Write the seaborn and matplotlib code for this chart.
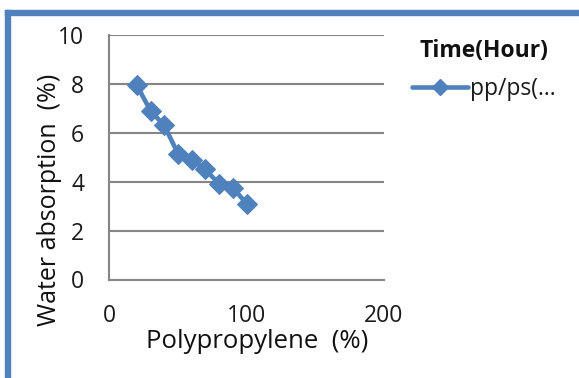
import matplotlib
matplotlib.use("Agg")
import matplotlib.pyplot as plt
import matplotlib.patches as mpatches
from matplotlib.lines import Line2D
import seaborn as sns
import pandas as pd

polypropylene = [20, 30, 40, 50, 60, 70, 80, 90, 100]
water_absorption = [7.95, 6.9, 6.3, 5.15, 4.9, 4.5, 3.9, 3.75, 3.1]
series_name = "pp/ps(..."
legend_title = "Time(Hour)"
x_ticks = [0, 100, 200]
y_ticks = [0, 2, 4, 6, 8, 10]

df = pd.DataFrame({"x": polypropylene, "y": water_absorption, "s": series_name})

sns.set_theme(style="white")
plt.rcParams["font.family"] = ["Open Sans", "DejaVu Sans"]

W, H = 579, 378
fig = plt.figure(figsize=(W / 100, H / 100), dpi=100)
ax = fig.add_axes([109.3 / W, 1 - 279.5 / H, (384 - 109.3) / W, (279.5 - 35) / H])

blue = "#4F81BD"
grid = "#868686"

sns.lineplot(data=df, x="x", y="y", hue="s", palette=[blue], marker="D",
             markersize=10.5, linewidth=3.3, markeredgecolor=blue, ax=ax, legend=False)

ax.set_xlim(0, 200)
ax.set_ylim(0, 10)
ax.set_xticks(x_ticks)
ax.set_yticks(y_ticks)
ax.yaxis.grid(True, color=grid, linewidth=1.5)
ax.xaxis.grid(False)
for s in ["top", "right"]:
    ax.spines[s].set_visible(False)
for s in ["left", "bottom"]:
    ax.spines[s].set_color(grid)
    ax.spines[s].set_linewidth(1.5)
ax.tick_params(axis="both", which="major", direction="out", length=6, width=1.5,
               color=grid, labelsize=16.5, labelcolor="#1a1a1a")
ax.tick_params(axis="x", pad=12)
ax.tick_params(axis="y", pad=12)

ax.set_xlabel("Polypropylene  (%)", fontsize=18.5, color="#111111")
ax.xaxis.set_label_coords((257.5 - 109.3) / 274.7, (279.5 - 348.3) / 244.5)
ax.xaxis.label.set_va("baseline")
ax.set_ylabel("Water absorption  (%)", fontsize=18, color="#111111")
ax.yaxis.set_label_coords((56 - 109.3) / 274.7, (279.5 - 200) / 244.5)
ax.yaxis.label.set_va("baseline")

# legend
handle = Line2D([], [], color=blue, linewidth=3.3, marker="D", markersize=8)
leg = fig.legend([handle], [series_name], title=legend_title, loc="upper left",
                 bbox_to_anchor=(412 / W, 1 - 39 / H), frameon=False, fontsize=16.5,
                 title_fontproperties={"weight": "bold", "size": 16.5},
                 handlelength=2.45, handletextpad=0.1, borderpad=0, borderaxespad=0,
                 labelspacing=0.6)
leg.get_title().set_color("#111111")
for t in leg.get_texts():
    t.set_color("#1a1a1a")

# blue frame (chart border)
fig.patches.append(mpatches.Rectangle((5 / W, 0), 5 / W, 1 - 10 / H, transform=fig.transFigure,
                                      color=blue, zorder=10))
fig.patches.append(mpatches.Rectangle((5 / W, 1 - 15 / H), 1, 5 / H, transform=fig.transFigure,
                                      color=blue, zorder=10))

fig.savefig("out.png", dpi=100)
